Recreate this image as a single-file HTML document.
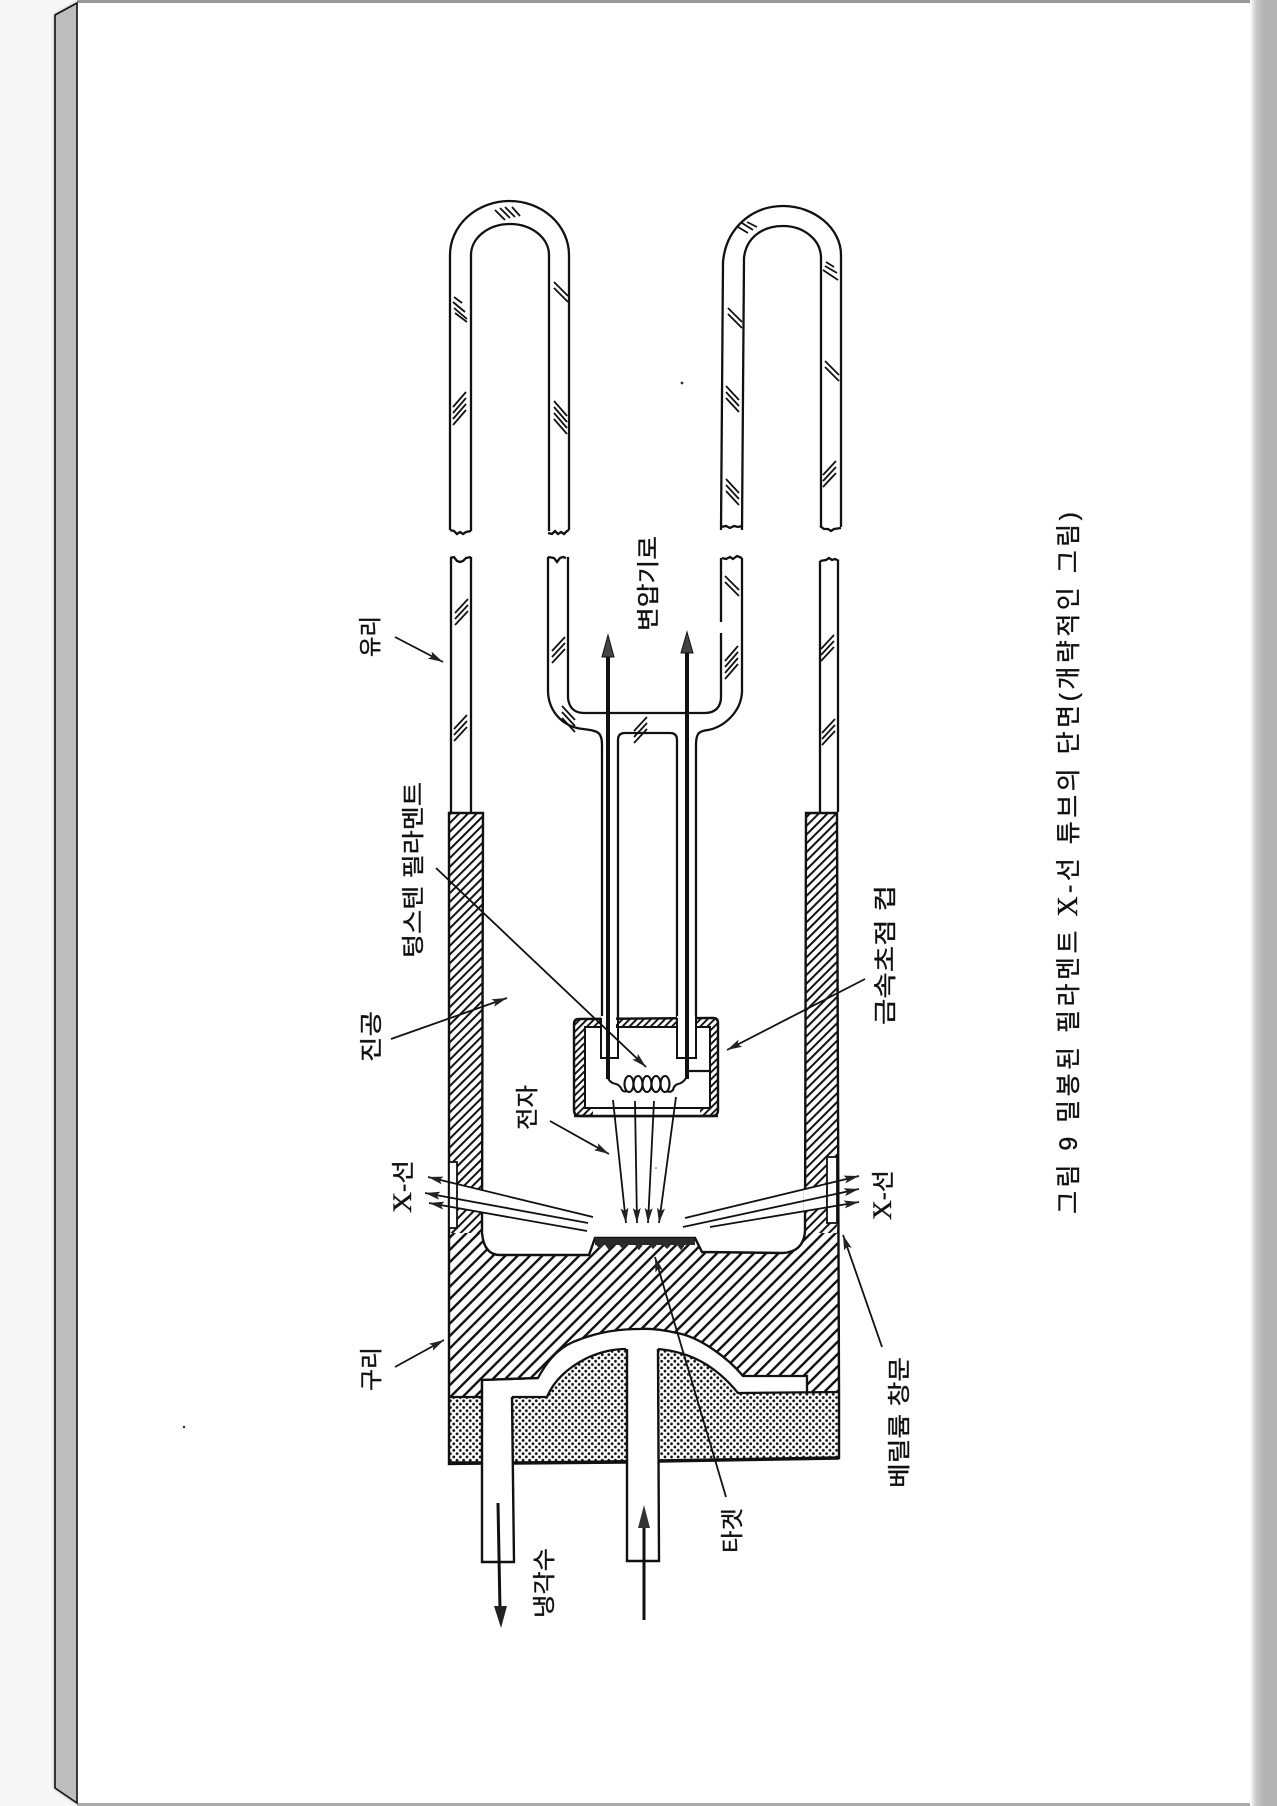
<!DOCTYPE html>
<html lang="ko">
<head>
<meta charset="utf-8">
<title>밀봉된 필라멘트 X-선 튜브의 단면</title>
<style>
html,body{margin:0;padding:0;background:#f7f7f7}
svg{display:block}
text{font-family:"Liberation Sans","Noto Sans CJK KR",sans-serif;fill:#111;stroke:#111;stroke-width:.35}
</style>
</head>
<body>
<svg xmlns="http://www.w3.org/2000/svg" width="1277" height="1806" viewBox="0 0 1277 1806">
<defs>
<linearGradient id="rg" x1="0" x2="1" y1="0" y2="0">
<stop offset="0" stop-color="#fff"/><stop offset="0.45" stop-color="#c8c8c8"/><stop offset="1" stop-color="#b2b2b2"/>
</linearGradient>
<filter id="sh" x="-50%" y="-5%" width="200%" height="110%"><feGaussianBlur stdDeviation="1.8"/></filter>
<pattern id="hb" width="8.7" height="8.7" patternUnits="userSpaceOnUse" patternTransform="rotate(45)">
<rect width="8.7" height="8.7" fill="#fff"/><rect width="2.4" height="8.7" fill="#111"/>
</pattern>
<pattern id="hw" width="6.2" height="6.2" patternUnits="userSpaceOnUse" patternTransform="rotate(45)">
<rect width="6.2" height="6.2" fill="#fff"/><rect width="2" height="6.2" fill="#111"/>
</pattern>
<pattern id="hc" width="5" height="5" patternUnits="userSpaceOnUse" patternTransform="rotate(45)">
<rect width="5" height="5" fill="#fff"/><rect width="1.9" height="5" fill="#111"/>
</pattern>
<pattern id="dt" width="6.6" height="6.6" patternUnits="userSpaceOnUse">
<rect width="6.6" height="6.6" fill="#fff"/>
<circle cx="1.65" cy="1.65" r="1.4" fill="#111"/><circle cx="4.95" cy="4.95" r="1.4" fill="#111"/>
</pattern>
<marker id="a" markerUnits="userSpaceOnUse" markerWidth="16" markerHeight="10" refX="15" refY="4" orient="auto">
<path d="M0 0 L15 4 L0 8 L3 4Z" fill="#222"/>
</marker>
<g id="m2" stroke="#111" stroke-width="1.8" fill="none"><path d="M-7 5 L7 -9 M-7 11 L7 -3"/></g>
<g id="m3" stroke="#111" stroke-width="1.8" fill="none"><path d="M-7 2 L6 -12 M-7 8 L6 -6 M-7 14 L6 0"/></g>
<g id="m4" stroke="#111" stroke-width="1.8" fill="none"><path d="M-7 -1 L6 -16 M-7 5 L6 -10 M-7 11 L6 -4 M-7 17 L6 2"/></g>
</defs>

<rect width="1277" height="1806" fill="#f7f7f7"/>
<polygon points="55,15 77,3 77,1803 55,1788" fill="#777" filter="url(#sh)"/>
<rect x="77" y="0" width="1200" height="1806" fill="#fff"/>
<rect x="77" y="0" width="1200" height="3" fill="#999"/>
<rect x="77" y="1803" width="1200" height="3" fill="#aaa"/>
<rect x="1250" y="0" width="14" height="1806" fill="url(#rg)"/>
<rect x="1264" y="0" width="13" height="1806" fill="#b2b2b2"/>
<polygon points="55,15 77,3 77,1803 55,1788" fill="#bdbdbd" stroke="#111" stroke-width="1.6"/>

<g fill="none" stroke="#111" stroke-width="2.3">
<!-- U tube 1 -->
<path d="M450 530 V255 A59.5 54 0 0 1 569 255 V530"/>
<path d="M471 531 V255 A39 31 0 0 1 549 255 V531"/>
<path d="M450 530 l4 1 l3 3 l3 -2 l3 2 l3 -2 l5 -1"/>
<path d="M548 533 l4 1 l3 -3 l3 3 l3 -2 l3 2 l3 -3 l2 -1"/>
<path d="M450 558 l4 -1 l3 4 l3 1 l3 -1 l3 -3 l5 -1"/>
<path d="M548 557 l6 1 l3 4 l3 -4 l3 -1 l3 1"/>
<path d="M451 558 V813 M471 557 V813"/>
<!-- U tube 2 -->
<path d="M721 530 L723 262 C726 228 752 206 783 206 C814 206 841 228 841 255 V527"/>
<path d="M742 530 L744 258 C746 238 762 226 783 226 C804 226 821 240 821 258 V527"/>
<path d="M721 527 l5 -1 l4 2 l4 -2 l4 1 l4 -1"/>
<path d="M820 526 l4 3 l4 0 l3 2 l3 -2 l7 -1"/>
<path d="M722 558 l4 1 l4 -2 l3 2 l4 -3 l5 2"/>
<path d="M820 561 l6 -1 l3 -2 l3 2 l3 -1 l4 2"/>
<path d="M820 561 V812 M838 561 V812"/>
<!-- Inner glass -->
<path d="M548 557 V692 C549 712 563 727 583 729 C597 731 602 731 602 745 V1058"/>
<path d="M568 557 V698 C569 708 575 713 584 713 H705 C715 713 721 707 721 697 V633 M721 622 V558"/>
<path d="M742 558 V692 C741 712 724 727 708 730 C699 731 696 733 696 745 V1058"/>
<path d="M618 1019 V740 Q618 733 625 733 H670 Q677 733 677 740 V1019"/>
</g>

<!-- Glass marks -->
<g stroke="#111" stroke-width="1.8" fill="none">
<path d="M495 210 L505 220 M500 208 L510 218 M505 207 L515 217 M512 207 L520 216"/>
<path d="M738 227 L748 233 M742 223 L753 230 M747 222 L757 227"/>
<path d="M823 270 L838 280 M825 266 L837 273 M826 262 L834 267"/>
<path d="M454 297 L462 303 M453 302 L465 312 M454 308 L467 319 M455 313 L467 322"/>
</g>
<use href="#m4" transform="translate(460,408)"/>
<use href="#m2" transform="translate(561,291) scale(-1,1)"/>
<use href="#m4" transform="translate(560,417) scale(-1,1)"/>
<use href="#m2" transform="translate(735,317) scale(-1,1)"/>
<use href="#m3" transform="translate(732,398) scale(-1,1)"/>
<use href="#m3" transform="translate(732,491) scale(-1,1)"/>
<use href="#m2" transform="translate(832,370) scale(-1,1)"/>
<use href="#m3" transform="translate(830,473)"/>
<use href="#m3" transform="translate(462,611)"/>
<use href="#m3" transform="translate(461,727)"/>
<use href="#m3" transform="translate(559,649)"/>
<use href="#m3" transform="translate(568,718) scale(-1,1)"/>
<use href="#m3" transform="translate(641,729)"/>
<use href="#m2" transform="translate(732,585) scale(-1,1)"/>
<use href="#m4" transform="translate(732,662)"/>
<use href="#m3" transform="translate(828,647)"/>
<use href="#m3" transform="translate(829,731)"/>

<!-- Dotted insulation -->
<g fill="url(#dt)" stroke="none">
<path d="M449 1397 H482 V1463 H449 Z"/>
<path d="M512 1397 H547 C552 1385 563 1370 587 1358 C600 1352 612 1349 626 1349 V1463 H512 Z"/>
<path d="M658 1349 C690 1352 715 1365 738 1393 L839 1392 V1458 L658 1461 Z"/>
</g>

<!-- Copper block -->
<path d="M449 813 H483 L482 1233 Q484 1255 500 1255 L589 1255 L595 1238 L695 1238 L702 1252 L783 1253 Q803 1252 805 1232 L806 813 H837 L839 1392 L807 1392 L807 1376 L743 1376 C728 1358 700 1337 677 1333 Q655 1328 640 1329 C610 1329 590 1335 573 1342 C555 1350 545 1365 538 1378 L482 1380 L482 1397 L449 1397 Z" fill="url(#hb)" stroke="none"/>
<rect x="449" y="813" width="34" height="420" fill="url(#hw)"/>
<rect x="806" y="813" width="31" height="420" fill="url(#hw)"/>
<path d="M449 813 H483 L482 1233 Q484 1255 500 1255 L589 1255 L595 1238 L695 1238 L702 1252 L783 1253 Q803 1252 805 1232 L806 813 H837 L839 1392 L839 1458 L449 1464 Z" fill="none" stroke="#111" stroke-width="2.4"/>
<path d="M482 1397 V1380 L538 1378 C545 1365 555 1350 573 1342 C590 1335 610 1329 640 1329 Q655 1328 677 1333 C700 1337 728 1358 743 1376 H807 V1392" fill="none" stroke="#111" stroke-width="2.3"/>
<path d="M449 1397 H482 M512 1397 H547 C552 1385 563 1370 587 1358 C600 1352 612 1349 626 1349 M658 1349 C690 1352 715 1365 738 1393 L839 1392" fill="none" stroke="#111" stroke-width="2.3"/>
<path d="M449 1463 L482 1463 M514 1463 L626 1462 M659 1461 L839 1458" stroke="#111" stroke-width="3.5" fill="none"/>

<!-- Gaps in walls for X-rays -->
<polygon points="458,1184 484,1190 484,1213 458,1208" fill="#fff"/>
<polygon points="804,1189 826,1183 826,1207 804,1211" fill="#fff"/>
<rect x="449" y="1162" width="8" height="66" fill="#fff" stroke="#111" stroke-width="1.8"/>
<rect x="827" y="1157" width="10" height="66" fill="#fff" stroke="#111" stroke-width="1.8"/>

<!-- Water pipes -->
<path d="M482 1380 V1562 H514 L512 1397 Z" fill="#fff" stroke="none"/>
<path d="M482 1381 V1562 H514 L512 1397" fill="none" stroke="#111" stroke-width="2.4"/>
<path d="M627 1349 V1561 H659 L658 1349 Z" fill="#fff" stroke="none"/>
<path d="M627 1349 V1561 H659 L658 1349" fill="none" stroke="#111" stroke-width="2.4"/>
<path d="M482 1380 L538 1378" stroke="#111" stroke-width="2.3" fill="none"/>

<!-- Target -->
<rect x="595" y="1238" width="100" height="7" fill="#2a2a2a"/>
<path d="M597 1245 l3 3 l3 -3 M606 1245 l3 4 l3 -4 M620 1245 l3 3 l3 -3 M636 1245 l3 4 l3 -4 M650 1245 l3 3 l3 -3 M664 1245 l3 3 l3 -3 M678 1245 l3 4 l3 -4" fill="#2a2a2a" stroke="#2a2a2a" stroke-width="1.5"/>

<!-- Cup -->
<path d="M574 1024 Q574 1019 579 1019 L713 1018 Q718 1018 718 1023 V1110 Q718 1116 712 1116 H580 Q574 1116 574 1110 Z" fill="url(#hc)" stroke="#111" stroke-width="2.4"/>
<rect x="593" y="1109" width="107" height="6" fill="#fff"/>
<rect x="585" y="1027" width="125" height="81" fill="#fff" stroke="#111" stroke-width="2"/>
<path d="M574 1116 H718" stroke="#111" stroke-width="2.4"/>
<rect x="601" y="1016" width="15" height="42" fill="#fff"/>
<rect x="677" y="1016" width="18" height="42" fill="#fff"/>
<path d="M601 1018 V1058 H618 V1018 M677 1018 V1058 H696 V1018" fill="none" stroke="#111" stroke-width="2"/>
<path d="M686 1071 H710" stroke="#111" stroke-width="2.2"/>
<g fill="none" stroke="#111" stroke-width="2.1">
<ellipse cx="629" cy="1084" rx="4.5" ry="8"/>
<ellipse cx="638" cy="1084" rx="4.5" ry="8"/>
<ellipse cx="647" cy="1084" rx="4.5" ry="8"/>
<ellipse cx="656" cy="1084" rx="4.5" ry="8"/>
<ellipse cx="665" cy="1084" rx="4.5" ry="8"/>
<path d="M608 1078 Q610 1083 616 1084 Q620 1085 622 1090 Q625 1093 627 1090"/>
<path d="M686 1078 Q683 1083 678 1084 Q674 1085 673 1090 Q670 1093 667 1091"/>
</g>
<path d="M608 654 V1079 M687 652 V1079" fill="none" stroke="#111" stroke-width="4"/>
<polygon points="608,635 602,657 614,657" fill="#444" stroke="#111" stroke-width="1"/>
<polygon points="687,632 681,653 693,653" fill="#444" stroke="#111" stroke-width="1"/>

<!-- Thin arrows -->
<g stroke="#111" stroke-width="1.8" fill="none">
<path d="M613 1100 L626 1223" marker-end="url(#a)"/>
<path d="M635 1101 L637 1223" marker-end="url(#a)"/>
<path d="M654 1101 L648 1223" marker-end="url(#a)"/>
<path d="M676 1097 L659 1223" marker-end="url(#a)"/>
<path d="M593 1217 L428 1177" marker-end="url(#a)"/>
<path d="M588 1223 L425 1193" marker-end="url(#a)"/>
<path d="M587 1231 L429 1203" marker-end="url(#a)"/>
<path d="M685 1218 L859 1176" marker-end="url(#a)"/>
<path d="M683 1227 L859 1189" marker-end="url(#a)"/>
<path d="M710 1227 L859 1202" marker-end="url(#a)"/>
<path d="M395 637 L443 662" marker-end="url(#a)"/>
<path d="M391 1039 L507 998" marker-end="url(#a)"/>
<path d="M436 868 L646 1067" marker-end="url(#a)"/>
<path d="M865 979 L727 1050" marker-end="url(#a)"/>
<path d="M550 1121 L609 1154" marker-end="url(#a)"/>
<path d="M395 1367 L444 1340" marker-end="url(#a)"/>
<path d="M726 1497 L655 1257" marker-end="url(#a)"/>
<path d="M882 1347 L843 1235" marker-end="url(#a)"/>
</g>

<!-- Coolant arrows -->
<path d="M498 1503 L500 1610" stroke="#111" stroke-width="3" fill="none"/>
<polygon points="501,1628 494,1606 507,1606" fill="#222"/>
<path d="M644 1620 V1525" stroke="#111" stroke-width="3" fill="none"/>
<polygon points="644,1505 638,1528 650,1528" fill="#333"/>

<!-- Specks -->
<circle cx="682" cy="383" r="1.4" fill="#333"/>
<circle cx="184" cy="1427" r="1.2" fill="#222"/>
<circle cx="656" cy="1168" r="0.8" fill="#555"/>

<!-- Labels -->
<g font-size="23">
<text transform="translate(378,657) rotate(-90)" textLength="41" lengthAdjust="spacingAndGlyphs">유리</text>
<text transform="translate(656,631) rotate(-90)" textLength="95" lengthAdjust="spacingAndGlyphs">변압기로</text>
<text transform="translate(421,958) rotate(-90)" textLength="176" lengthAdjust="spacingAndGlyphs">텅스텐 필라멘트</text>
<text transform="translate(379,1062) rotate(-90)" textLength="51" lengthAdjust="spacingAndGlyphs">진공</text>
<text transform="translate(535,1130) rotate(-90)" textLength="45" lengthAdjust="spacingAndGlyphs">전자</text>
<text transform="translate(893,1025) rotate(-90)" textLength="140" lengthAdjust="spacingAndGlyphs">금속초점 컵</text>
<text transform="translate(411,1213) rotate(-90)" textLength="53" lengthAdjust="spacingAndGlyphs"><tspan font-family="Liberation Serif" font-size="26">X</tspan>-선</text>
<text transform="translate(891,1220) rotate(-90)" textLength="50" lengthAdjust="spacingAndGlyphs"><tspan font-family="Liberation Serif" font-size="26">X</tspan>-선</text>
<text transform="translate(379,1391) rotate(-90)" textLength="44" lengthAdjust="spacingAndGlyphs">구리</text>
<text transform="translate(907,1488) rotate(-90)" textLength="131" lengthAdjust="spacingAndGlyphs">베릴륨 창문</text>
<text transform="translate(740,1553) rotate(-90)" textLength="45" lengthAdjust="spacingAndGlyphs">타겟</text>
<text transform="translate(552,1618) rotate(-90)" textLength="70" lengthAdjust="spacingAndGlyphs">냉각수</text>
</g>
<text font-size="25" transform="translate(1077,1214) rotate(-90)" textLength="702" lengthAdjust="spacing">그림 9  밀봉된 필라멘트 <tspan font-family="Liberation Serif" font-size="28">X</tspan>-선 튜브의 단면(개략적인 그림)</text>
</svg>
</body>
</html>
